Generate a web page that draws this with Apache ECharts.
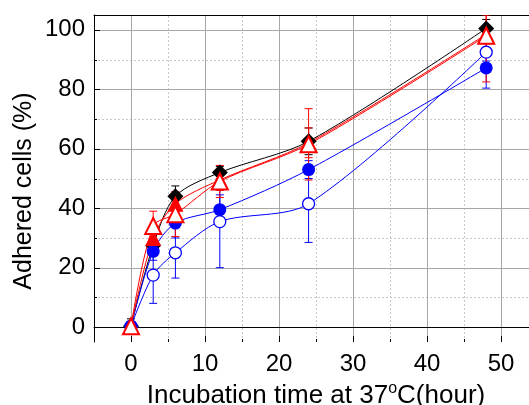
<!DOCTYPE html>
<html>
<head>
<meta charset="utf-8">
<script src="https://cdn.jsdelivr.net/npm/echarts@6/dist/echarts.min.js"></script>
<style>
html, body { margin: 0; padding: 0; background: #fff; overflow: hidden; }
#main { width: 529px; height: 405px; }
</style>
</head>
<body>
<div id="main"></div>
<script>
// incubation time (hour)
var hours = [0, 3, 6, 12, 24, 48];

// adhered cells (%) and error (+/-) per sample
var blackDiamond = [0.3, 27.5, 44, 52, 62.5, 100.5];
var blackErr = [2.5, 2, 3.5, 2, 4.5, 3];
var redFilled = [0.3, 30, 41.5, 49.5, 62, 98.5];
var redFilledErr = [0, 3, 4, 3.5, 5, 16];
var redOpen = [0.3, 34, 38, 49, 61.5, 98];
var redOpenErr = [0, 5, 7.5, 5.4, 12, 7];
var blueFilled = [0.3, 25.5, 35, 39.5, 53, 87.2];
var blueFilledErr = [0, 3, 5, 5, 3, 6.8];
var blueOpen = [0.3, 17.5, 25, 35.5, 41.5, 92.5];
var blueOpenErr = [0, 9.5, 8.5, 15.5, 13, 3];

// axis ticks
var xMajor = [0, 10, 20, 30, 40, 50];
var xMinor = [5, 15, 25, 35, 45];
var yMajor = [0, 20, 40, 60, 80, 100];
var yMinor = [10, 30, 50, 70, 90];

var X_MIN = -5, X_MAX = 55, Y_MIN = -5, Y_MAX = 105;

function pairs(ys) {
    return hours.map(function(h, i) { return [h, ys[i]]; });
}
function errData(ys, es) {
    return hours.map(function(h, i) { return [h, ys[i], es[i]]; });
}

function errSeries(ys, es, color) {
    return {
        type: 'custom',
        z: 2,
        clip: true,
        silent: true,
        data: errData(ys, es),
        renderItem: function(params, api) {
            var x = api.value(0), y = api.value(1), e = api.value(2);
            if (!e) return null;
            var top = api.coord([x, y + e]);
            var bot = api.coord([x, y - e]);
            var st = { stroke: color, lineWidth: 1 };
            return {
                type: 'group',
                children: [
                    { type: 'line', shape: { x1: top[0], y1: top[1], x2: bot[0], y2: bot[1] }, style: st },
                    { type: 'line', shape: { x1: top[0] - 4, y1: top[1], x2: top[0] + 4, y2: top[1] }, style: st },
                    { type: 'line', shape: { x1: bot[0] - 4, y1: bot[1], x2: bot[0] + 4, y2: bot[1] }, style: st }
                ]
            };
        }
    };
}

function lineSeries(ys, color, symbol, size, filled, bw) {
    return {
        type: 'line',
        z: 3,
        data: pairs(ys),
        smooth: 0.3,
        symbol: symbol,
        symbolSize: size,
        showAllSymbol: true,
        lineStyle: { color: color, width: 1 },
        itemStyle: {
            color: filled ? color : '#fff',
            borderColor: color,
            borderWidth: bw
        },
        emphasis: { disabled: true }
    };
}

// grid lines and inward ticks
var gridSeries = {
    type: 'custom',
    z: 0,
    silent: true,
    data: [[0, 0]],
    renderItem: function(params, api) {
        var ch = [];
        var major = { stroke: '#a6a6a6', lineWidth: 1 };
        var minor = { stroke: '#c8c8c8', lineWidth: 1, lineDash: [2, 2] };
        var tick = { stroke: '#000', lineWidth: 1 };
        function vline(v, st) {
            var a = api.coord([v, Y_MIN]), b = api.coord([v, Y_MAX]);
            ch.push({ type: 'line', shape: { x1: Math.round(a[0]) + 0.5, y1: a[1], x2: Math.round(b[0]) + 0.5, y2: b[1] }, style: st });
        }
        function hline(v, st) {
            var a = api.coord([X_MIN, v]), b = api.coord([X_MAX, v]);
            ch.push({ type: 'line', shape: { x1: a[0], y1: Math.round(a[1]) + 0.5, x2: b[0], y2: Math.round(b[1]) + 0.5 }, style: st });
        }
        function xtick(v, len) {
            var a = api.coord([v, Y_MIN]);
            var x = Math.round(a[0]) + 0.5;
            ch.push({ type: 'line', shape: { x1: x, y1: a[1], x2: x, y2: a[1] - len }, style: tick });
        }
        function ytick(v, len) {
            var a = api.coord([X_MIN, v]);
            var y = Math.round(a[1]) + 0.5;
            ch.push({ type: 'line', shape: { x1: a[0], y1: y, x2: a[0] + len, y2: y }, style: tick });
        }
        xMinor.forEach(function(v) { vline(v, minor); });
        yMinor.forEach(function(v) { hline(v, minor); });
        xMajor.forEach(function(v) { vline(v, major); });
        yMajor.forEach(function(v) { hline(v, major); });
        xMajor.forEach(function(v) { xtick(v, 6); });
        xMinor.forEach(function(v) { xtick(v, 3); });
        yMajor.forEach(function(v) { ytick(v, 6); });
        yMinor.forEach(function(v) { ytick(v, 3); });
        return { type: 'group', children: ch };
    }
};

var chart = echarts.init(document.getElementById('main'), null, { renderer: 'canvas' });

var option = {
    animation: false,
    backgroundColor: '#fff',
    textStyle: { fontFamily: 'Liberation Sans, Arial, sans-serif' },
    grid: { left: 94, width: 444, top: 15, height: 327, containLabel: false, outerBoundsMode: 'none' },
    graphic: [{
        type: 'text',
        x: 24,
        y: 191,
        rotation: Math.PI / 2,
        style: {
            text: 'Adhered cells (%)',
            fontFamily: 'Liberation Sans, Arial, sans-serif',
            fontSize: 25,
            fill: '#000',
            align: 'center',
            verticalAlign: 'middle'
        }
    }],
    xAxis: [{
        type: 'value',
        min: X_MIN,
        max: X_MAX,
        interval: 5,
        name: 'Incubation time at 37{sup|o}C(hour)',
        nameLocation: 'middle',
        nameGap: 35,
        nameTextStyle: {
            fontSize: 26,
            color: '#000',
            rich: {
                sup: { fontSize: 16, color: '#000', padding: [0, 0, 14, 0] }
            }
        },
        axisLine: { show: true, lineStyle: { color: '#000', width: 1 } },
        axisTick: { show: false },
        splitLine: { show: false },
        axisLabel: {
            fontSize: 24,
            color: '#000',
            margin: 10,
            formatter: function(v) {
                return (v % 10 === 0 && v >= 0 && v <= 50) ? String(v) : '';
            }
        }
    }, {
        type: 'value',
        position: 'top',
        min: X_MIN,
        max: X_MAX,
        interval: 5,
        axisLine: { show: true, onZero: false, lineStyle: { color: '#000', width: 1 } },
        axisTick: { show: false },
        axisLabel: { show: false },
        splitLine: { show: false }
    }],
    yAxis: [{
        type: 'value',
        min: Y_MIN,
        max: Y_MAX,
        interval: 5,
        axisLine: { show: true, onZero: false, lineStyle: { color: '#000', width: 1 } },
        axisTick: { show: false },
        splitLine: { show: false },
        axisLabel: {
            fontSize: 24,
            color: '#000',
            margin: 9,
            formatter: function(v) {
                return (v % 20 === 0 && v >= 0 && v <= 100) ? String(v) : '';
            }
        }
    }],
    series: [
        gridSeries,
        errSeries(blackDiamond, blackErr, '#000'),
        errSeries(blueOpen, blueOpenErr, '#0000ff'),
        errSeries(blueFilled, blueFilledErr, '#0000ff'),
        errSeries(redFilled, redFilledErr, '#ff0000'),
        errSeries(redOpen, redOpenErr, '#ff0000'),
        lineSeries(blackDiamond, '#000', 'diamond', 16, true, 0),
        lineSeries(blueOpen, '#0000ff', 'circle', 12, false, 1.3),
        lineSeries(blueFilled, '#0000ff', 'circle', 13, true, 0),
        lineSeries(redFilled, '#ff0000', 'triangle', 16, true, 0),
        lineSeries(redOpen, '#ff0000', 'triangle', 16, false, 2)
    ]
};

chart.setOption(option);
</script>
</body>
</html>
